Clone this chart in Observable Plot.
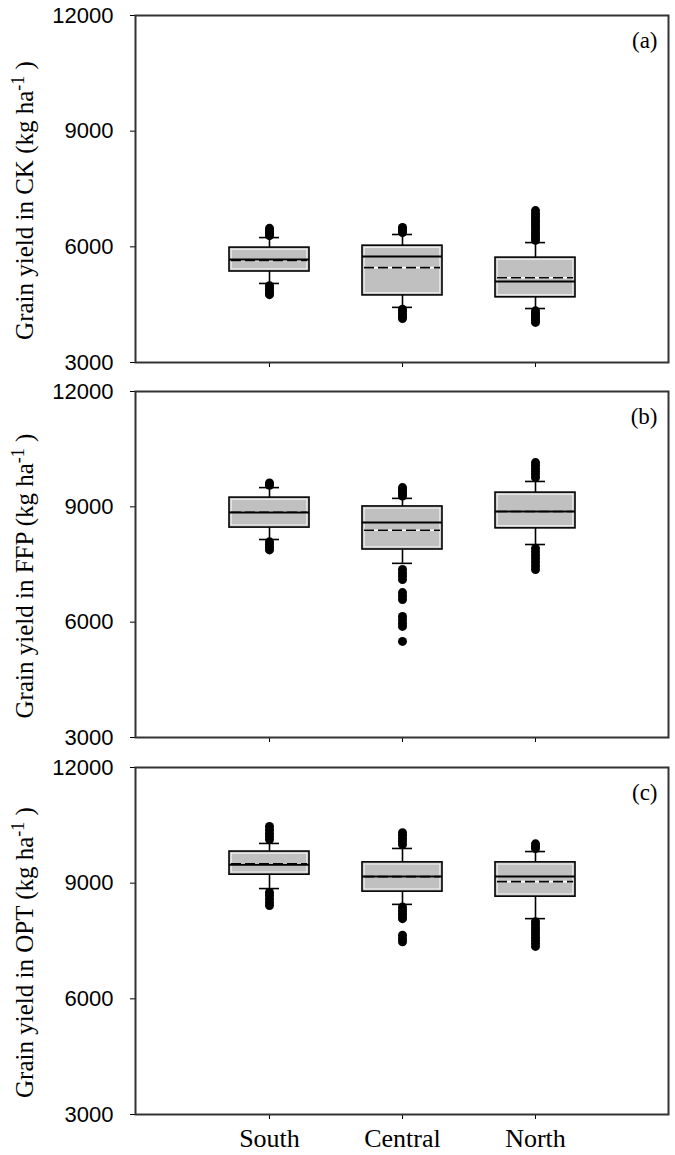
<!DOCTYPE html>
<html><head><meta charset="utf-8">
<script src="https://cdn.jsdelivr.net/npm/d3@7"></script>
<script src="https://cdn.jsdelivr.net/npm/@observablehq/plot@0.6"></script>
<style>body{margin:0;background:#fff} #chart svg{display:block}</style>
</head><body><div id="chart"></div>
<script>
// Categories
const regions = ["South", "Central", "North"];
const treatments = ["CK", "FFP", "OPT"];
const panelTags = ["(a)", "(b)", "(c)"];
const yTicks = [3000, 6000, 9000, 12000];

// Box statistics, rows = CK, FFP, OPT; columns = South, Central, North
const boxLow    = [[5050, 4430, 4400], [8150, 7530, 8020], [8860, 8450, 8080]];
const boxQ1     = [[5360, 4740, 4690], [8460, 7890, 8440], [9220, 8780, 8650]];
const boxMedian = [[5670, 5750, 5100], [8850, 8590, 8880], [9480, 9170, 9170]];
const boxMean   = [[5650, 5460, 5200], [8860, 8390, 8880], [9500, 9170, 9040]];
const boxQ3     = [[5980, 6030, 5720], [9240, 9010, 9370], [9820, 9540, 9540]];
const boxHigh   = [[6240, 6320, 6110], [9500, 9220, 9660], [10030, 9900, 9820]];

// Outliers per region (South, Central, North)
const ckOutliers = [
  [6290, 6340, 6390, 6440, 6480, 4990, 4930, 4870, 4810, 4760],
  [6370, 6420, 6470, 6500, 4380, 4320, 4260, 4200, 4140],
  [6170, 6230, 6300, 6370, 6440, 6510, 6580, 6650, 6720, 6790, 6860, 6940, 4340, 4280, 4220, 4160, 4100, 4040]
];
const ffpOutliers = [
  [9560, 9620, 8090, 8020, 7950, 7880],
  [9280, 9340, 9400, 9460, 9500, 7370, 7280, 7200, 7110, 6770, 6680, 6590, 6150, 6060, 5970, 5890, 5500],
  [9760, 9840, 9920, 10000, 10080, 10150, 7920, 7830, 7740, 7650, 7560, 7460, 7370]
];
const optOutliers = [
  [10130, 10210, 10290, 10380, 10470, 8760, 8680, 8590, 8500, 8420],
  [10000, 10080, 10160, 10240, 10310, 8380, 8300, 8220, 8150, 8080, 7650, 7560, 7480],
  [9900, 9960, 10020, 8000, 7920, 7840, 7760, 7680, 7600, 7520, 7440, 7360]
];
const outliers = [ckOutliers, ffpOutliers, optOutliers];

const plotHeights = [347, 346, 347];
const container = document.getElementById("chart");

function makePanel(p) {
  const last = p === 2;
  const stats = regions.map((r, i) => ({
    region: r, low: boxLow[p][i], q1: boxQ1[p][i], median: boxMedian[p][i],
    mean: boxMean[p][i], q3: boxQ3[p][i], high: boxHigh[p][i]
  }));
  const outs = outliers[p].flatMap((vals, i) => vals.map(v => ({region: regions[i], value: v})));
  const mt = 15, mb = last ? 41 : 14 + (p === 1 ? 1 : 0);
  const h = mt + plotHeights[p] + mb;
  const chart = Plot.plot({
    width: 675, height: h,
    marginTop: mt, marginLeft: 135, marginRight: 7, marginBottom: mb,
    style: {background: "#fff", color: "#000"},
    x: {type: "band", domain: regions, paddingInner: 0.4, paddingOuter: 0.7, label: null},
    y: {domain: [3000, 12000], label: null},
    marks: [
      Plot.axisY({ticks: yTicks, tickSize: 5, tickPadding: 17, tickFormat: d => String(d),
        fontSize: 22, fontFamily: "Liberation Sans", label: null}),
      Plot.axisX({tickSize: 5, tickPadding: 9, tickFormat: last ? (d => d) : (() => ""),
        fontSize: 26, fontFamily: "Liberation Serif", label: null}),
      Plot.ruleX(stats, {x: "region", y1: "low", y2: "q1", stroke: "#000", strokeWidth: 1.6}),
      Plot.ruleX(stats, {x: "region", y1: "q3", y2: "high", stroke: "#000", strokeWidth: 1.6}),
      Plot.dot(outs, {x: "region", y: "value", r: 4.5, fill: "#000", stroke: "none"}),
      Plot.tickY(stats, {x: "region", y: "low", insetLeft: 30, insetRight: 30, stroke: "#000", strokeWidth: 1.6}),
      Plot.tickY(stats, {x: "region", y: "high", insetLeft: 30, insetRight: 30, stroke: "#000", strokeWidth: 1.6}),
      Plot.barY(stats, {x: "region", y1: "q1", y2: "q3", fill: "#c0c0c0", stroke: "#000", strokeWidth: 1.6}),
      Plot.barY(stats, {x: "region", y1: "q1", y2: "q3", inset: 2.2, fill: "none", stroke: "#f2f2f2", strokeWidth: 1}),
      Plot.tickY(stats, {x: "region", y: "mean", insetLeft: 2, insetRight: 2, stroke: "#fff", strokeWidth: 1.6}),
      Plot.tickY(stats, {x: "region", y: "mean", insetLeft: 2, insetRight: 2, stroke: "#000", strokeWidth: 1.6, strokeDasharray: "10,4"}),
      Plot.tickY(stats, {x: "region", y: "median", stroke: "#000", strokeWidth: 2}),
      Plot.frame({stroke: "#333", strokeWidth: 2}),
      Plot.text([panelTags[p]], {text: d => d, frameAnchor: "top-right", dx: -11, dy: 25,
        textAnchor: "end", lineAnchor: "middle", fontSize: 23, fontFamily: "Liberation Serif", fill: "#000"})
    ]
  });
  // rotated y-axis title with superscript
  const svg = d3.select(chart);
  const cy = mt + plotHeights[p] / 2 + 12;
  const t = svg.append("text")
    .attr("transform", `translate(33,${cy}) rotate(-90)`)
    .attr("text-anchor", "middle")
    .attr("font-family", "Liberation Serif")
    .attr("font-size", 25)
    .attr("fill", "#000");
  t.append("tspan").text(`Grain yield in ${treatments[p]} (kg ha`);
  t.append("tspan").attr("dy", -9).attr("font-size", 18).text("-1");
  t.append("tspan").attr("dy", 9).text(" )");
  container.appendChild(chart);
}
[0, 1, 2].forEach(makePanel);
</script>
</body></html>
